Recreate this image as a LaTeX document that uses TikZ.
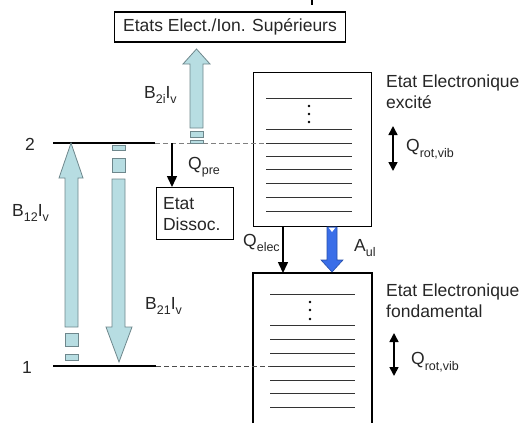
\documentclass[tikz,border=0pt]{standalone}
\usepackage{fontspec}
\setmainfont{Liberation Sans}
\usetikzlibrary{arrows.meta}
\definecolor{lblue}{RGB}{183,221,226}
\definecolor{aborder}{RGB}{110,135,140}
\definecolor{ablue}{RGB}{58,110,232}
\definecolor{bblue}{RGB}{40,80,170}
\newcommand\lsub[1]{\raisebox{-0.6ex}{\fontsize{12.5}{12.5}\selectfont #1}}
\begin{document}
\begin{tikzpicture}[x=1pt,y=-1pt,
  txt/.style={font=\fontsize{17.5}{21}\selectfont, inner sep=0pt, text=black!85},
  boxnode/.style={draw, line width=1.2pt, font=\fontsize{17.5}{21}\selectfont, text=black!85},
  level/.style={line width=1.6pt},
  dashlevel/.style={gray, line width=0.9pt, dash pattern=on 5pt off 3pt},
  fatarrow/.style={fill=lblue, draw=aborder, line width=0.8pt},
  sublev/.style={line width=1pt, black!80},
  thinarrow/.style={line width=1.5pt, -{Triangle[length=11pt,width=10pt]}},
  dblarrow/.style={line width=1.6pt, {Triangle[length=9pt,width=9pt]}-{Triangle[length=9pt,width=9pt]}}]
\useasboundingbox (0,0) rectangle (521,423);

% stray tick at top
\draw[line width=2pt] (312,0) -- (312,5);

% top box
\node[boxnode, minimum width=231pt, minimum height=30pt, inner sep=0pt] (sup) at (230,27) {Etats Elect./Ion. Supérieurs};

% dissociation box
\node[boxnode, anchor=north west, minimum width=77pt, minimum height=52pt, text width=64pt, inner xsep=6pt, inner ysep=0pt, align=left] (dis) at (156,187) {Etat\\Dissoc.};

% excited box
\node[draw, line width=1.2pt, anchor=north west, minimum width=118pt, minimum height=154pt, inner sep=0pt] (exc) at (253,72) {};
\foreach \y in {98,129,143,156,169,183,197,211} \draw[sublev] (266,\y) -- (352,\y);
\foreach \y in {106,114,122} \fill (309,\y) circle (1.3);

% ground box (open at bottom)
\coordinate (gtl) at (253,273);
\coordinate (gtr) at (372,273);
\draw[line width=1.2pt] (253,423) -- (gtl) -- (gtr) -- (372,423);
\foreach \y in {294,325,339,353,366,380,393,407} \draw[sublev] (270,\y) -- (355,\y);
\foreach \y in {302,310,319} \fill (310,\y) circle (1.3);

% levels
\coordinate (L2a) at (53,143); \coordinate (L2b) at (155,143); \coordinate (L2c) at (266,143);
\coordinate (L1a) at (53,366); \coordinate (L1b) at (156,366); \coordinate (L1c) at (270,366);
\draw[dashlevel] (L2b) -- (L2c);
\draw[dashlevel, black!70] (L1b) -- (L1c);
\draw[level] (L2a) -- (L2b);
\draw[level] (L1a) -- (L1b);
\node[txt, anchor=center] (n2) at (30,144) {2};
\node[txt, anchor=center] (n1) at (27,367) {1};

% B12 up arrow
\draw[fatarrow] (65,327) -- (65,178) -- (59,178) -- (71,143) -- (83,178) -- (78,178) -- (78,327) -- cycle;
\draw[fatarrow] (65,333) rectangle (78,346);
\draw[fatarrow] (65,354) rectangle (78,360);
\node[txt, anchor=west] (b12) at (12,213) {B\lsub{12}I\lsub{v}};

% B21 down arrow
\draw[fatarrow] (112,145) rectangle (125,150);
\draw[fatarrow] (112,158) rectangle (125,172);
\draw[fatarrow] (112,179) -- (112,327) -- (106,327) -- (119,362) -- (132,327) -- (125,327) -- (125,179) -- cycle;
\node[txt, anchor=west] (b21) at (145,306) {B\lsub{21}I\lsub{v}};

% B2i up arrow
\draw[fatarrow] (190,128) -- (190,64) -- (183,64) -- (196.5,49) -- (210,64) -- (203,64) -- (203,128) -- cycle;
\draw[fatarrow] (190,131) rectangle (203,137);
\draw[fatarrow] (190,140) rectangle (203,143);
\node[txt, anchor=west] (b2i) at (144,95) {B\lsub{2i}I\lsub{v}};

% Qpre
\coordinate (qp) at (172,143);
\draw[thinarrow] (qp) -- (qp |- dis.north);
\node[txt, anchor=west] (qpre) at (188,167) {Q\lsub{pre}};

% Qelec
\coordinate (qe) at (283,226);
\draw[thinarrow] (qe) -- (qe |- gtl);
\node[txt, anchor=west] (qel) at (243,243) {Q\lsub{elec}};

% Aul
\draw[fill=ablue, draw=bblue, line width=0.6pt] (327,227) -- (327,260) -- (321,260) -- (332,272) -- (343,260) -- (337,260) -- (337,227) -- cycle;
\fill[white] (328.5,227.5) -- (335.5,227.5) -- (332,232) -- cycle;
\node[txt, anchor=west] (aul) at (354,248) {A\lsub{ul}};

% right labels
\node[txt, anchor=north west, align=left] (lexc) at (386,75) {Etat Electronique\\excité};
\draw[dblarrow] (393,126) -- (393,171);
\node[txt, anchor=west] (qrv1) at (406,149) {Q\lsub{rot,vib}};

\node[txt, anchor=north west, align=left] (lgnd) at (386,284) {Etat Electronique\\fondamental};
\draw[dblarrow] (394,333) -- (394,376);
\node[txt, anchor=west] (qrv2) at (411,362) {Q\lsub{rot,vib}};
\end{tikzpicture}
\end{document}
